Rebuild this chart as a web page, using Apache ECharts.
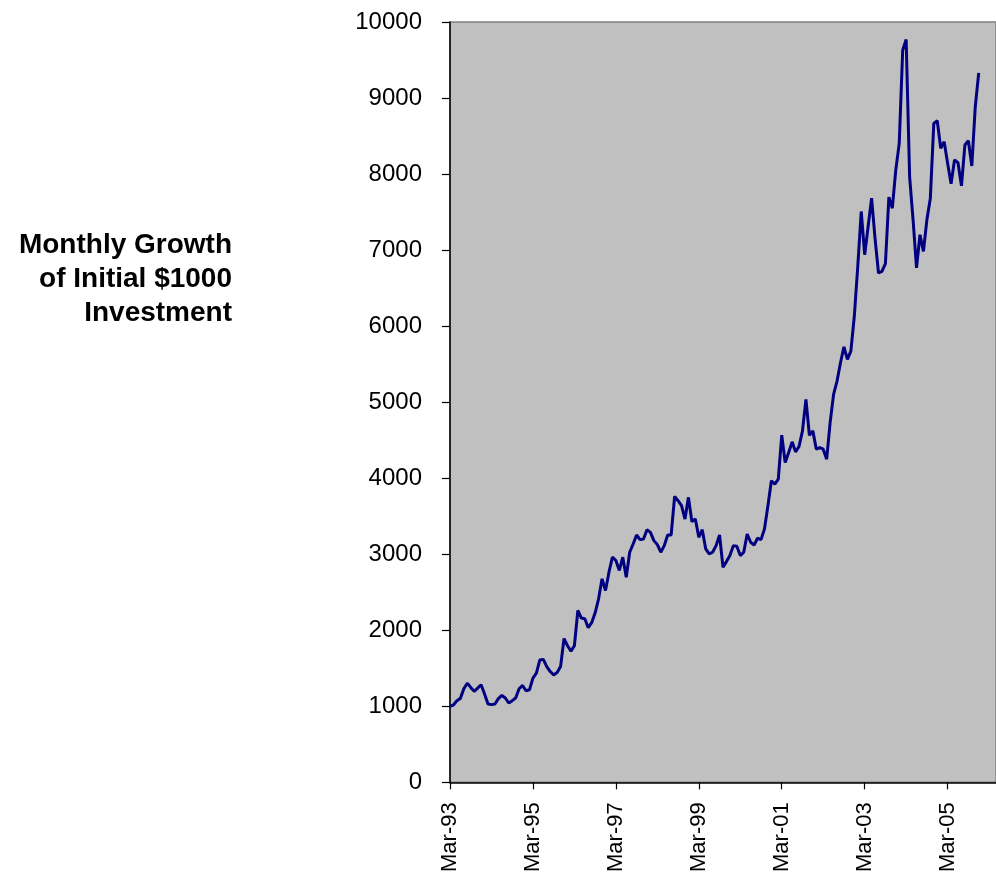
<!DOCTYPE html>
<html>
<head>
<meta charset="utf-8">
<title>Monthly Growth of Initial $1000 Investment</title>
<script src="https://cdn.jsdelivr.net/npm/echarts@6/dist/echarts.min.js"></script>
<style>
  html, body { margin: 0; padding: 0; background: #fff; }
  #chart { width: 996px; height: 875px; }
</style>
</head>
<body>
<div id="chart"></div>
<script>
// first month of the series and how many month slots the axis holds
const startYear = 1993
const startMonth = 2 // March
const axisMonths = 159

// tick labels shown every 24 months
const tickLabels = ['Mar-93', 'Mar-95', 'Mar-97', 'Mar-99', 'Mar-01', 'Mar-03', 'Mar-05']

// month-end value of the $1000 investment, Mar-93 .. Dec-05
const growthValues = [
  1000, 1017, 1074, 1104, 1230, 1304, 1248, 1196, 1239, 1283, 1161, 1030,
  1022, 1030, 1100, 1143, 1109, 1043, 1074, 1109, 1230, 1274, 1204, 1217,
  1370, 1435, 1609, 1617, 1522, 1457, 1413, 1443, 1522, 1891, 1796, 1726,
  1796, 2261, 2161, 2152, 2035, 2100, 2230, 2413, 2676, 2523, 2764, 2961,
  2917, 2786, 2961, 2698, 3026, 3135, 3253, 3192, 3201, 3323, 3288, 3179,
  3126, 3026, 3113, 3253, 3253, 3761, 3704, 3638, 3463, 3748, 3428, 3463,
  3223, 3323, 3070, 3004, 3026, 3113, 3253, 2829, 2903, 2982, 3113, 3105,
  2982, 3026, 3266, 3157, 3122, 3210, 3192, 3332, 3638, 3966, 3922, 3988,
  4565, 4207, 4338, 4478, 4346, 4417, 4622, 5037, 4565, 4622, 4381, 4403,
  4381, 4250, 4731, 5103, 5278, 5518, 5728, 5562, 5671, 6130, 6786, 7508,
  6939, 7311, 7683, 7150, 6699, 6721, 6821, 7696, 7551, 8054, 8404, 9629,
  9769, 7967, 7399, 6765, 7202, 6983, 7399, 7683, 8667, 8701, 8339, 8426,
  8142, 7871, 8186, 8150, 7845, 8382, 8439, 8107, 8885, 9331
]

const titleLines = ['Monthly Growth', 'of Initial $1000', 'Investment']

// build the month category names (Mar-93, Apr-93, ...)
const monthNames = ['Jan', 'Feb', 'Mar', 'Apr', 'May', 'Jun', 'Jul', 'Aug', 'Sep', 'Oct', 'Nov', 'Dec']
const categories = []
for (let i = 0; i < axisMonths; i++) {
  const m = (startMonth + i) % 12
  const y = startYear + Math.floor((startMonth + i) / 12)
  categories.push(monthNames[m] + '-' + String(y % 100).padStart(2, '0'))
}

const chart = echarts.init(document.getElementById('chart'))

const option = {
  animation: false,
  backgroundColor: '#ffffff',
  textStyle: { fontFamily: 'Liberation Sans, Arial, sans-serif' },
  grid: {
    left: 450,
    top: 22,
    right: 0,
    bottom: 91,
    show: true,
    backgroundColor: '#c0c0c0',
    borderColor: '#808080',
    borderWidth: 1.5
  },
  graphic: [
    {
      type: 'text',
      x: 232,
      y: 228,
      style: {
        text: titleLines.join('\n'),
        align: 'right',
        verticalAlign: 'top',
        lineHeight: 34,
        font: 'bold 28px "Liberation Sans", Arial, sans-serif',
        fill: '#000'
      }
    }
  ],
  xAxis: {
    type: 'category',
    data: categories,
    boundaryGap: false,
    axisLine: { lineStyle: { color: '#000', width: 1.5 } },
    axisTick: {
      show: true,
      interval: 23,
      length: 7,
      lineStyle: { color: '#000', width: 1.2 }
    },
    axisLabel: {
      interval: 23,
      rotate: 90,
      margin: 20,
      fontSize: 22,
      color: '#000',
      formatter: (val) => tickLabels.includes(val) ? val : ''
    },
    splitLine: { show: false }
  },
  yAxis: {
    type: 'value',
    min: 0,
    max: 10000,
    interval: 1000,
    axisLine: { show: true, lineStyle: { color: '#000', width: 1.5 } },
    axisTick: { show: true, length: 8, lineStyle: { color: '#000', width: 1.2 } },
    axisLabel: {
      margin: 28,
      fontSize: 24,
      color: '#000',
      formatter: (val) => String(val)
    },
    splitLine: { show: false }
  },
  series: [
    {
      name: 'Growth',
      type: 'line',
      data: growthValues,
      symbol: 'none',
      lineStyle: { color: '#000080', width: 3 },
      itemStyle: { color: '#000080' }
    }
  ]
}

chart.setOption(option)
</script>
</body>
</html>
